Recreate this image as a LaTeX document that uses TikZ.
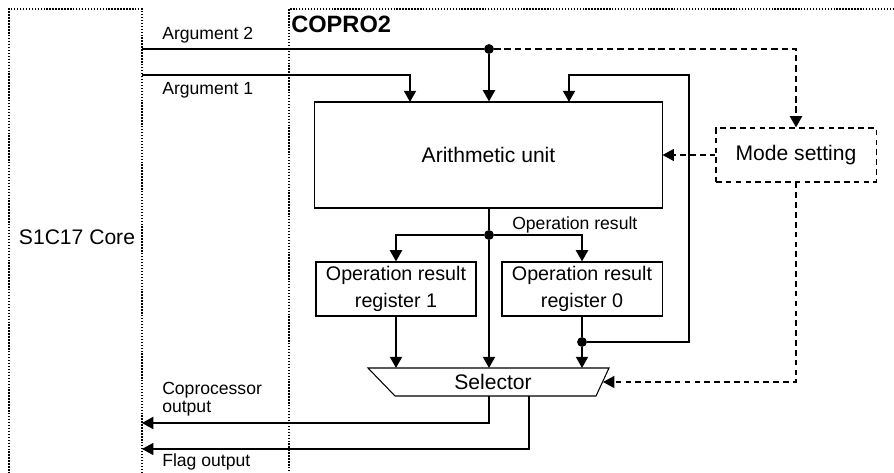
\documentclass[tikz,border=0pt]{standalone}
\usepackage{fontspec}
\setmainfont{Liberation Sans}
\usetikzlibrary{arrows.meta}

\begin{document}
\begin{tikzpicture}[x=0.025cm,y=-0.025cm,>={Triangle[width=8.5pt,length=8pt]},
  bus/.style={line width=1.6pt},
  wire/.style={line width=0.75pt},
  blk/.style={draw,line width=0.75pt,inner sep=0pt,align=center,
    minimum width=4cm,minimum height=1.35cm,font=\fontsize{14}{19}\selectfont},
  sig/.style={font=\fontsize{12.5}{13}\selectfont,inner sep=0pt,anchor=west,align=left},
  border/.style={line width=1.15pt,dash pattern=on 1pt off 1.1pt},
  modeln/.style={line width=0.75pt,dash pattern=on 4pt off 3pt},
  dot/.style={circle,fill,inner sep=0pt,minimum size=7pt}]
 \useasboundingbox (0,0) rectangle (894,473);
 % frames of the core and the coprocessor
 \draw[border] (142,473) -- (142,9) -- (9,9) -- (9,473);
 \draw[border] (894,9) -- (289,9) -- (289,473);
 \node[font=\fontsize{16.8}{20}\selectfont\bfseries,anchor=west,inner sep=0pt] (copro) at (291,24) {COPRO2};
 \node[font=\fontsize{15}{18}\selectfont] (core) at (77,237) {S1C17 Core};
 % blocks
 \node[blk,minimum width=8.675cm,minimum height=2.65cm,font=\fontsize{15}{18}\selectfont] (AU) at (488.5,155) {Arithmetic unit};
 \node[blk] (R1) at (396,289) {Operation result\\register 1};
 \node[blk] (R0) at (582,289) {Operation result\\register 0};
 \node[blk,modeln,font=\fontsize{15}{18}\selectfont] (MS) at (796,155) {Mode setting};
 \draw[wire] (368,368) -- (609,368) -- (596,396) -- (395,396) -- cycle;
 \node[font=\fontsize{15}{18}\selectfont,inner sep=0pt] (SEL) at (493,382) {Selector};
 % connector ends
 \coordinate (arg2) at (142,49);
 \coordinate (arg1) at (142,75);
 \coordinate (cpo) at (142,423);
 \coordinate (flg) at (142,449);
 \coordinate (au1) at (410,102);
 \coordinate (au3) at (569,102);
 \coordinate (seltop) at (0,368);
 \coordinate (selbot) at (0,396);
 \coordinate (selr) at (603,382);
 \node[dot] (j2) at (489,49) {};
 \node[dot] (jr) at (489,235) {};
 \node[dot] (j0) at (582,342) {};
 % data paths
 \draw[bus] (arg2) -- (j2);
 \draw[bus,->] (j2) -- (j2 |- AU.north);
 \draw[bus,->] (arg1) -| (au1);
 \draw[bus] (AU.south -| jr) -- (jr);
 \draw[bus,->] (jr) -| (R1.north);
 \draw[bus,->] (jr) -| (R0.north);
 \draw[bus,->] (jr) -- (jr |- seltop);
 \draw[bus,->] (R1.south) -- (R1.south |- seltop);
 \draw[bus] (R0.south) -- (j0);
 \draw[bus,->] (j0) -- (j0 |- seltop);
 \draw[bus,->] (j0) -| (689,75) -| (au3);
 \draw[bus,->] (jr |- selbot) |- (cpo);
 \draw[wire,->] (529,396) |- (flg);
 % mode control
 \draw[bus,dash pattern=on 4.5pt off 2.8pt,->] (j2) -| (MS.north);
 \draw[modeln,->] (MS.west) -- (AU.east);
 \draw[modeln,->] (MS.south) |- (selr);
 % labels
 \node[sig] (a2) at (162,35) {Argument 2};
 \node[sig] (a1) at (162,90) {Argument 1};
 \node[sig] (res) at (512,225) {Operation result};
 \node[sig] (co) at (162,399) {Coprocessor\\output};
 \node[sig] (fo) at (162,462) {Flag output};
\end{tikzpicture}
\end{document}
